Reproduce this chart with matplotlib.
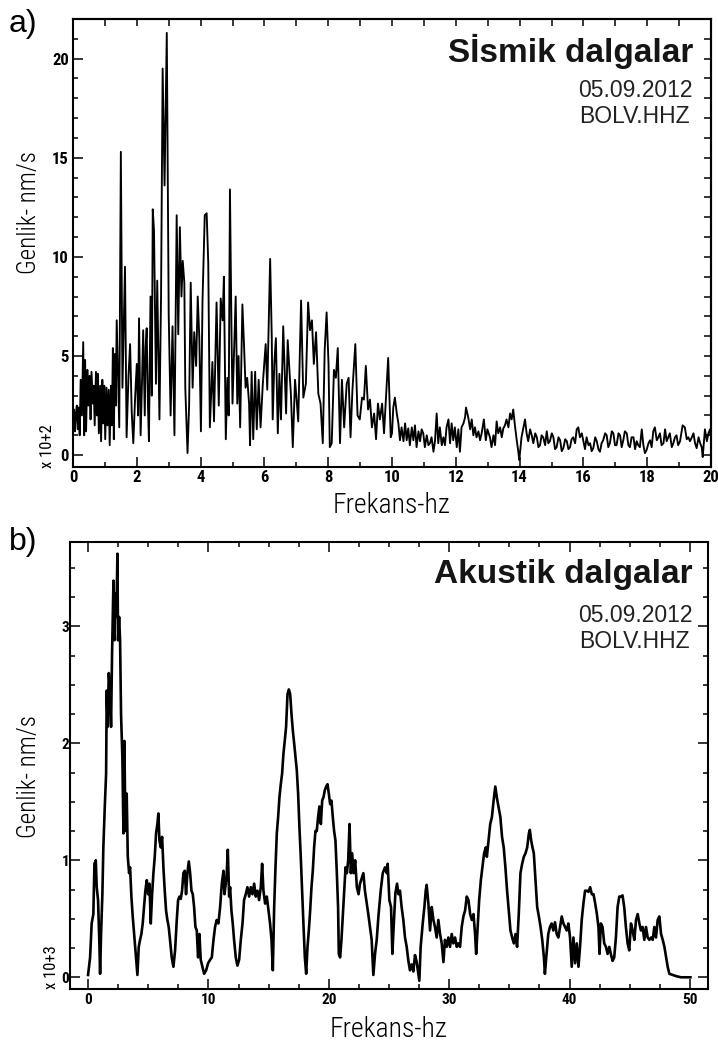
import matplotlib
matplotlib.use("Agg")
import matplotlib.pyplot as plt
from matplotlib.ticker import MultipleLocator

# --- seismic spectrum (panel a): Hz, amplitude (x 10^2 nm/s)
seis_freq = [
    0.00, 0.03, 0.06, 0.09, 0.12, 0.15, 0.18, 0.21, 0.24, 0.28, 0.32, 0.35, 0.38, 0.41,
    0.45, 0.48, 0.52, 0.55, 0.58, 0.62, 0.65, 0.68, 0.72, 0.75, 0.78, 0.81, 0.85, 0.88,
    0.92, 0.95, 0.98, 1.01, 1.05, 1.08, 1.12, 1.15, 1.19, 1.22, 1.25, 1.28, 1.31, 1.34,
    1.37, 1.45, 1.50, 1.55, 1.63, 1.68, 1.74, 1.79, 1.84, 1.89, 1.95, 2.00, 2.04, 2.07,
    2.12, 2.16, 2.20, 2.25, 2.28, 2.31, 2.35, 2.38, 2.43, 2.47, 2.50, 2.54, 2.60, 2.64,
    2.71, 2.76, 2.81, 2.87, 2.94, 3.00, 3.06, 3.12, 3.18, 3.25, 3.30, 3.35, 3.40, 3.44,
    3.49, 3.52, 3.59, 3.64, 3.69, 3.75, 3.80, 3.86, 3.91, 3.96, 4.01, 4.06, 4.13, 4.19,
    4.24, 4.29, 4.33, 4.37, 4.42, 4.50, 4.57, 4.63, 4.69, 4.73, 4.79, 4.84, 4.88, 4.92,
    4.97, 5.00, 5.05, 5.10, 5.15, 5.19, 5.24, 5.31, 5.36, 5.41, 5.46, 5.52, 5.55, 5.60,
    5.65, 5.71, 5.76, 5.82, 5.88, 5.95, 6.04, 6.09, 6.18, 6.23, 6.26, 6.31, 6.36, 6.42,
    6.47, 6.52, 6.59, 6.68, 6.73, 6.78, 6.83, 6.89, 6.96, 7.01, 7.06, 7.15, 7.22, 7.30,
    7.37, 7.43, 7.49, 7.55, 7.62, 7.69, 7.76, 7.83, 7.89, 7.95, 8.01, 8.05, 8.11, 8.18,
    8.24, 8.30, 8.37, 8.43, 8.50, 8.58, 8.64, 8.70, 8.76, 8.85, 8.92, 8.99, 9.06, 9.12,
    9.18, 9.25, 9.31, 9.37, 9.44, 9.50, 9.56, 9.62, 9.69, 9.75, 9.81, 9.88, 9.96,
    10.00, 10.04, 10.09, 10.15, 10.20, 10.25, 10.30, 10.36, 10.41, 10.46, 10.51, 10.56,
    10.62, 10.67, 10.72, 10.77, 10.83, 10.88, 10.93, 10.98, 11.03, 11.09, 11.14, 11.19,
    11.24, 11.30, 11.35, 11.40, 11.45, 11.50, 11.56, 11.61, 11.66, 11.71, 11.77, 11.82,
    11.87, 11.92, 11.97, 12.03, 12.08, 12.13, 12.18, 12.24, 12.29, 12.32, 12.39, 12.45,
    12.50, 12.55, 12.60, 12.65, 12.71, 12.76, 12.81, 12.88, 12.94, 12.99, 13.07, 13.12,
    13.18, 13.23, 13.28, 13.33, 13.39, 13.44, 13.49, 13.54, 13.59, 13.65, 13.70, 13.75,
    13.80, 13.86, 13.91, 13.96, 13.99, 14.06, 14.12, 14.17, 14.22, 14.27, 14.33, 14.38,
    14.43, 14.49, 14.54, 14.59, 14.64, 14.69, 14.74, 14.80, 14.85, 14.90, 14.95, 15.01,
    15.06, 15.11, 15.16, 15.22, 15.27, 15.32, 15.37, 15.43, 15.48, 15.53, 15.58, 15.63,
    15.68, 15.74, 15.79, 15.84, 15.89, 15.95, 16.00, 16.05, 16.10, 16.16, 16.21, 16.26,
    16.31, 16.37, 16.42, 16.47, 16.52, 16.57, 16.62, 16.68, 16.73, 16.78, 16.83, 16.89,
    16.94, 16.99, 17.04, 17.10, 17.15, 17.20, 17.25, 17.30, 17.36, 17.41, 17.46, 17.51,
    17.57, 17.62, 17.67, 17.72, 17.77, 17.83, 17.88, 17.93, 17.98, 18.04, 18.09, 18.14,
    18.19, 18.24, 18.30, 18.35, 18.40, 18.45, 18.51, 18.56, 18.61, 18.66, 18.71, 18.77,
    18.82, 18.87, 18.92, 18.97, 19.03, 19.08, 19.11, 19.18, 19.24, 19.29, 19.34, 19.40,
    19.45, 19.50, 19.55, 19.61, 19.66, 19.71, 19.74, 19.81, 19.87, 19.92, 19.97, 20.00,
]
seis_amp = [
    1.5, 2.3, 1.2, 2.1, 2.5, 1.3, 2.4, 1.0, 3.8, 2.0, 5.7, 1.0, 4.8, 1.2,
    4.3, 2.5, 4.0, 1.8, 4.2, 2.6, 3.5, 1.5, 4.2, 2.0, 4.1, 1.1, 3.5, 0.7,
    3.8, 1.6, 3.5, 0.8, 3.4, 1.5, 3.3, 0.5, 3.5, 1.5, 5.4, 0.8, 5.1, 2.5,
    6.8, 1.4, 15.3, 3.4, 9.5, 0.9, 4.0, 5.6, 2.2, 0.6, 3.0, 4.6, 2.0, 6.9,
    1.0, 3.5, 6.3, 2.0, 5.5, 6.4, 2.5, 0.7, 8.0, 3.0, 12.4, 11.3, 3.6, 8.8,
    1.8, 8.0, 19.5, 13.6, 21.3, 7.1, 2.0, 6.5, 1.0, 12.1, 6.1, 11.5, 8.0, 9.8,
    8.7, 3.4, 0.1, 2.5, 8.7, 3.4, 6.2, 4.5, 8.0, 5.9, 1.2, 7.8, 12.1, 12.2,
    9.7, 1.4, 3.0, 4.7, 1.7, 7.7, 2.5, 7.9, 6.8, 9.0, 0.8, 3.9, 2.0, 13.4,
    6.0, 2.6, 5.3, 8.0, 2.6, 5.0, 1.4, 7.6, 5.6, 3.4, 3.9, 2.6, 0.5, 4.2,
    0.8, 4.2, 1.3, 3.8, 1.4, 3.6, 5.6, 3.3, 9.9, 6.0, 1.8, 4.6, 5.9, 1.1,
    4.1, 1.8, 6.5, 2.1, 5.8, 4.4, 3.1, 0.4, 3.8, 2.8, 1.7, 7.8, 2.9, 3.6,
    7.7, 6.3, 6.8, 4.6, 6.2, 3.1, 2.6, 0.6, 5.3, 7.2, 4.6, 0.4, 0.6, 4.3,
    3.9, 5.4, 0.6, 3.8, 1.4, 3.6, 3.9, 0.9, 3.3, 5.6, 2.0, 1.8, 2.9, 2.8,
    4.5, 2.3, 2.8, 1.4, 2.1, 0.8, 2.6, 1.8, 2.6, 1.1, 2.9, 4.9, 0.9,
    1.1, 2.4, 2.9, 2.1, 1.6, 0.75, 1.4, 0.7, 1.6, 0.75, 1.35, 0.5,
    1.4, 0.75, 1.5, 0.4, 1.2, 0.7, 1.3, 1.1, 0.4, 1.0, 0.5, 0.6,
    0.9, 0.17, 0.75, 2.1, 0.6, 1.4, 0.5, 0.9, 0.5, 1.4, 1.8, 0.6,
    1.6, 0.75, 1.4, 0.4, 1.3, 0.17, 1.4, 1.6, 1.9, 2.4, 1.9, 1.3,
    1.8, 1.0, 1.4, 0.9, 1.2, 0.75, 1.1, 1.8, 0.75, 1.3, 0.9, 0.4,
    1.0, 0.5, 1.7, 1.1, 1.4, 0.9, 1.35, 1.5, 1.8, 1.4, 2.1, 1.8,
    2.3, 1.4, 0.75, 0.17, -0.25, 0.9, 1.4, 1.8, 1.1, 0.7, 1.3, 1.0,
    0.6, 1.1, 0.9, 0.4, 0.5, 1.0, 0.9, 0.5, 1.2, 0.6, 0.7, 1.1,
    0.9, 0.3, 0.4, 0.9, 0.75, 0.2, 0.35, 0.8, 0.7, 0.3, 0.4, 0.8,
    0.9, 0.6, 1.3, 1.4, 0.9, 1.1, 0.7, 0.3, 0.9, 0.5, 0.6, 0.2,
    0.35, 0.9, 0.7, 0.3, 0.17, 0.6, 0.75, 1.1, 1.0, 0.4, 0.6, 1.2,
    1.1, 0.5, 0.5, 1.1, 1.0, 0.4, 0.75, 1.2, 1.1, 0.5, 0.4, 0.9,
    0.9, 0.3, 0.7, 0.5, 0.4, 1.3, 0.5, 0.1, 0.25, 0.6, 0.75, 0.4,
    1.2, 1.4, 0.75, 0.9, 1.1, 0.5, 0.6, 1.3, 0.7, 0.9, 1.1, 0.4,
    0.6, 0.9, 1.0, 0.5, 0.7, 1.2, 1.5, 1.4, 0.8, 0.9, 0.7, 0.9,
    1.1, 0.6, 0.35, 0.9, 0.6, 0.4, -0.1, 1.3, 0.7, 1.1, 1.3, 0.9,
]

# --- acoustic spectrum (panel b): Hz, amplitude (x 10^3 nm/s)
acou_freq = [
    0.00, 0.17, 0.30, 0.44, 0.53, 0.64, 0.72, 0.83, 0.94, 1.00, 1.08, 1.19, 1.27, 1.39,
    1.50, 1.55, 1.63, 1.72, 1.83, 1.91, 1.99, 2.11, 2.19, 2.27, 2.35, 2.44, 2.49, 2.58,
    2.66, 2.74, 2.85, 2.94, 3.02, 3.10, 3.21, 3.30, 3.41, 3.49, 3.60, 3.71, 3.85, 3.99,
    4.10, 4.21, 4.32, 4.43, 4.54, 4.65, 4.76, 4.88, 4.99, 5.10, 5.21, 5.32, 5.43, 5.54,
    5.65, 5.76, 5.84, 5.93, 6.04, 6.15, 6.26, 6.37, 6.48, 6.59, 6.70, 6.81, 6.95, 7.09,
    7.23, 7.37, 7.48, 7.59, 7.70, 7.81, 7.92, 8.03, 8.14, 8.25, 8.37, 8.48, 8.59, 8.70,
    8.81, 8.92, 9.03, 9.14, 9.25, 9.36, 9.50, 9.64, 9.81, 9.97, 10.14, 10.28, 10.42,
    10.55, 10.69, 10.83, 10.97, 11.11, 11.25, 11.33, 11.44, 11.52, 11.61, 11.72, 11.80,
    11.91, 12.02, 12.13, 12.27, 12.41, 12.55, 12.69, 12.83, 12.96, 13.10, 13.24, 13.38,
    13.52, 13.66, 13.80, 13.93, 14.07, 14.21, 14.35, 14.46, 14.57, 14.71, 14.85, 14.99,
    15.12, 15.24, 15.35, 15.46, 15.57, 15.68, 15.79, 15.90, 16.01, 16.12, 16.23, 16.34,
    16.45, 16.57, 16.68, 16.79, 16.90, 17.01, 17.12, 17.23, 17.34, 17.45, 17.56, 17.67,
    17.78, 17.89, 18.01, 18.12, 18.23, 18.34, 18.45, 18.56, 18.67, 18.78, 18.89, 19.00,
    19.11, 19.22, 19.34, 19.45, 19.56, 19.67, 19.78, 19.89, 20.00, 20.11, 20.22, 20.33,
    20.44, 20.55, 20.66, 20.77, 20.83, 20.94, 21.05, 21.16, 21.27, 21.39, 21.50, 21.61,
    21.72, 21.83, 21.94, 22.05, 22.19, 22.33, 22.47, 22.59, 22.87, 23.00, 23.28, 23.56,
    23.70, 23.84, 23.98, 24.12, 24.31, 24.48, 24.67, 24.81, 24.89, 25.03, 25.17, 25.28,
    25.37, 25.53, 25.67, 25.78, 25.91, 26.05, 26.19, 26.33, 26.47, 26.61, 26.74, 26.88,
    27.02, 27.16, 27.30, 27.44, 27.52, 27.63, 27.80, 27.94, 28.05, 28.13, 28.27, 28.41,
    28.55, 28.69, 28.82, 28.96, 29.10, 29.24, 29.38, 29.52, 29.65, 29.79, 29.93, 30.07,
    30.21, 30.35, 30.49, 30.63, 30.76, 30.90, 31.04, 31.18, 31.32, 31.46, 31.60, 31.74,
    31.88, 32.02, 32.15, 32.24, 32.35, 32.49, 32.63, 32.76, 32.90, 33.04, 33.13, 33.27,
    33.41, 33.55, 33.69, 33.83, 33.97, 34.11, 34.25, 34.39, 34.53, 34.67, 34.81, 34.95,
    35.09, 35.23, 35.37, 35.51, 35.64, 35.78, 35.92, 36.06, 36.20, 36.34, 36.48, 36.62,
    36.70, 36.81, 36.92, 37.03, 37.17, 37.31, 37.45, 37.59, 37.73, 37.87, 37.95, 38.09,
    38.23, 38.37, 38.51, 38.65, 38.79, 38.93, 39.07, 39.21, 39.35, 39.49, 39.62, 39.76,
    39.90, 40.04, 40.18, 40.32, 40.46, 40.60, 40.74, 40.87, 41.01, 41.15, 41.29, 41.43,
    41.57, 41.71, 41.85, 41.99, 42.13, 42.27, 42.40, 42.49, 42.60, 42.74, 42.88, 43.02,
    43.16, 43.30, 43.43, 43.57, 43.71, 43.85, 43.99, 44.13, 44.27, 44.40, 44.54, 44.68,
    44.82, 44.96, 45.10, 45.24, 45.38, 45.52, 45.66, 45.80, 45.93, 46.07, 46.21, 46.35,
    46.49, 46.63, 46.77, 46.91, 47.04, 47.18, 47.32, 47.46, 47.60, 47.74, 47.88, 48.02,
    48.15, 48.29, 48.57, 48.85, 49.26, 50.04,
]
acou_amp = [
    0.02, 0.17, 0.46, 0.54, 0.97, 1.00, 0.77, 0.66, 0.29, 0.03, 0.37, 0.71, 1.11, 1.46,
    1.74, 2.45, 2.14, 2.60, 2.45, 2.14, 2.74, 3.39, 2.88, 3.28, 3.08, 3.62, 2.88, 3.08,
    2.88, 2.25, 1.88, 1.23, 2.02, 1.25, 1.57, 1.03, 0.89, 0.94, 0.69, 0.52, 0.34, 0.15,
    0.02, 0.26, 0.32, 0.37, 0.46, 0.60, 0.74, 0.83, 0.71, 0.80, 0.46, 0.71, 0.89, 1.03,
    1.23, 1.31, 1.40, 1.17, 1.11, 1.20, 0.94, 0.74, 0.57, 0.49, 0.43, 0.32, 0.17, 0.09,
    0.23, 0.49, 0.66, 0.69, 0.67, 0.74, 0.89, 0.91, 0.71, 0.89, 0.99, 0.89, 0.74, 0.71,
    0.60, 0.43, 0.40, 0.17, 0.37, 0.15, 0.09, 0.03, 0.06, 0.12, 0.15, 0.17, 0.32,
    0.43, 0.49, 0.46, 0.60, 0.80, 0.91, 0.71, 0.80, 0.89, 1.09, 0.69, 0.77,
    0.57, 0.46, 0.32, 0.17, 0.10, 0.15, 0.32, 0.46, 0.66, 0.71, 0.77, 0.69,
    0.77, 0.71, 0.80, 0.69, 0.74, 0.66, 0.77, 0.97, 0.74, 0.63, 0.69, 0.57,
    0.46, 0.32, 0.06, 0.60, 0.94, 1.23, 1.37, 1.54, 1.65, 1.74, 1.91, 2.02,
    2.14, 2.42, 2.46, 2.42, 2.25, 2.11, 2.00, 1.88, 1.77, 1.57, 1.28, 1.03,
    0.74, 0.46, 0.17, 0.03, 0.26, 0.40, 0.57, 0.77, 0.91, 1.11, 1.25, 1.25,
    1.37, 1.46, 1.31, 1.51, 1.54, 1.60, 1.63, 1.65, 1.57, 1.48, 1.51, 1.37,
    1.25, 1.17, 0.91, 0.60, 0.20, 0.17, 0.32, 0.52, 0.71, 0.94, 0.89, 1.00,
    1.31, 0.89, 1.06, 0.89, 1.00, 0.77, 0.71, 0.80, 0.89, 0.74, 0.54, 0.32,
    0.02, 0.20, 0.32, 0.52, 0.74, 0.89, 0.94, 0.89, 0.97, 0.66, 0.60, 0.20,
    0.40, 0.72, 0.80, 0.71, 0.74, 0.60, 0.49, 0.34, 0.26, 0.14, 0.06, 0.11,
    0.05, 0.19, 0.13, 0.03, -0.03, 0.26, 0.46, 0.60, 0.74, 0.79, 0.63, 0.40,
    0.60, 0.49, 0.43, 0.34, 0.49, 0.37, 0.29, 0.13, 0.32, 0.26, 0.34, 0.26,
    0.37, 0.29, 0.34, 0.26, 0.29, 0.26, 0.43, 0.52, 0.57, 0.69, 0.66, 0.54,
    0.49, 0.54, 0.37, 0.20, 0.40, 0.66, 0.83, 0.94, 1.06, 1.11, 1.03, 1.17,
    1.31, 1.37, 1.51, 1.63, 1.53, 1.45, 1.37, 1.20, 1.11, 0.94, 0.74, 0.57,
    0.40, 0.34, 0.29, 0.37, 0.26, 0.54, 0.89, 0.97, 1.03, 1.06, 1.11, 1.23,
    1.26, 1.17, 1.11, 1.06, 0.83, 0.60, 0.52, 0.43, 0.32, 0.17, 0.03, 0.20,
    0.37, 0.43, 0.46, 0.40, 0.47, 0.37, 0.34, 0.43, 0.52, 0.46, 0.43, 0.40,
    0.46, 0.34, 0.09, 0.34, 0.12, 0.29, 0.09, 0.26, 0.49, 0.63, 0.74, 0.74,
    0.73, 0.77, 0.71, 0.71, 0.63, 0.54, 0.43, 0.20, 0.46, 0.43, 0.29, 0.26,
    0.20, 0.26, 0.20, 0.14, 0.17, 0.34, 0.60, 0.69, 0.69, 0.70, 0.60, 0.43,
    0.29, 0.23, 0.46, 0.40, 0.32, 0.49, 0.54, 0.46, 0.40, 0.43, 0.32, 0.43,
    0.34, 0.32, 0.34, 0.32, 0.43, 0.34, 0.49, 0.52, 0.37, 0.32, 0.26, 0.17,
    0.09, 0.03, 0.02, 0.01, 0.00, 0.00,
]

W, H = 718, 1051
COND = ["Roboto Condensed", "DejaVu Sans"]
ARIAL = ["Liberation Sans", "DejaVu Sans"]


def fx(px):
    return px / W


def fy(py):
    return 1 - py / H


def rect(left, top, right, bottom):
    return [fx(left), fy(bottom), (right - left) / W, (bottom - top) / H]


fig = plt.figure(figsize=(W / 100, H / 100), dpi=100)

# ---------------- panel a ----------------
ax1 = fig.add_axes(rect(73, 19, 711, 467))
ax1.plot(seis_freq, seis_amp, color="black", lw=1.35)
ax1.set_xlim(0, 20)
ax1.set_ylim(-0.6, 22)
ax1.xaxis.set_major_locator(MultipleLocator(2))
ax1.xaxis.set_minor_locator(MultipleLocator(1))
ax1.yaxis.set_major_locator(MultipleLocator(5))
ax1.yaxis.set_minor_locator(MultipleLocator(1))
ax1.tick_params(which="both", direction="in", width=1.1, top=False, right=False)
ax1.tick_params(which="major", length=7)
ax1.tick_params(which="minor", length=3.6)
ax1.tick_params(axis="x", pad=2)
ax1.tick_params(axis="y", pad=3)
# top and right edges carry evenly sized ticks every unit
top1 = ax1.secondary_xaxis("top")
top1.xaxis.set_major_locator(MultipleLocator(1))
top1.tick_params(direction="in", length=5, width=1.1, labeltop=False)
right1 = ax1.secondary_yaxis("right")
right1.yaxis.set_major_locator(MultipleLocator(1))
right1.tick_params(direction="in", length=5, width=1.1, labelright=False)

# ---------------- panel b ----------------
ax2 = fig.add_axes(rect(70, 542, 708, 989))
ax2.plot(acou_freq, acou_amp, color="black", lw=1.9)
ax2.set_xlim(-1.5, 51.5)
ax2.set_ylim(-0.1, 3.72)
ax2.xaxis.set_major_locator(MultipleLocator(10))
ax2.xaxis.set_minor_locator(MultipleLocator(2.5))
ax2.yaxis.set_major_locator(MultipleLocator(1))
ax2.yaxis.set_minor_locator(MultipleLocator(0.25))
ax2.tick_params(which="both", direction="in", width=1.1, top=True, right=True)
ax2.tick_params(which="major", length=7)
ax2.tick_params(which="minor", length=3.6)
ax2.tick_params(axis="x", pad=3)
ax2.tick_params(axis="y", pad=0.5)

for ax, fs in ((ax1, 12), (ax2, 11)):
    for sp in ax.spines.values():
        sp.set_linewidth(1.5)
    for lab in ax.get_xticklabels() + ax.get_yticklabels():
        lab.set_family(COND)
        lab.set_fontweight("bold")
        lab.set_fontsize(fs)
for sec in (top1, right1):
    for sp in sec.spines.values():
        sp.set_linewidth(1.5)

# axis labels, placed like the scanned original
fig.text(fx(392), fy(513), "Frekans-hz", family=COND, fontsize=20,
         fontweight="light", ha="center", va="baseline")
fig.text(fx(389), fy(1037), "Frekans-hz", family=COND, fontsize=20,
         fontweight="light", ha="center", va="baseline")
fig.text(fx(29), fy(213), "Genlik- nm/s", family=COND, fontsize=18,
         fontweight="light", rotation=90, ha="center", va="center")
fig.text(fx(29), fy(777), "Genlik- nm/s", family=COND, fontsize=18,
         fontweight="light", rotation=90, ha="center", va="center")
fig.text(fx(48), fy(446), "x 10+2", family=COND, fontsize=12,
         rotation=90, ha="center", va="center")
fig.text(fx(52), fy(967), "x 10+3", family=COND, fontsize=12,
         rotation=90, ha="center", va="center")

# panel letters
fig.text(fx(9), fy(32), "a)", family=ARIAL, fontsize=23, va="baseline")
fig.text(fx(9), fy(550), "b)", family=ARIAL, fontsize=23, va="baseline")

# headings inside the panels
fig.text(fx(693), fy(62), "Sİsmik dalgalar", family=ARIAL, fontsize=24,
         fontweight="bold", color="#151515", ha="right", va="baseline")
fig.text(fx(693), fy(97), "05.09.2012", family=ARIAL, fontsize=16.5,
         color="#222222", ha="right", va="baseline")
fig.text(fx(690), fy(123), "BOLV.HHZ", family=ARIAL, fontsize=16.5,
         color="#222222", ha="right", va="baseline")
fig.text(fx(693), fy(583), "Akustik dalgalar", family=ARIAL, fontsize=24,
         fontweight="bold", color="#151515", ha="right", va="baseline")
fig.text(fx(693), fy(622), "05.09.2012", family=ARIAL, fontsize=16.5,
         color="#222222", ha="right", va="baseline")
fig.text(fx(690), fy(648), "BOLV.HHZ", family=ARIAL, fontsize=16.5,
         color="#222222", ha="right", va="baseline")

fig.savefig("out.png", dpi=100)
